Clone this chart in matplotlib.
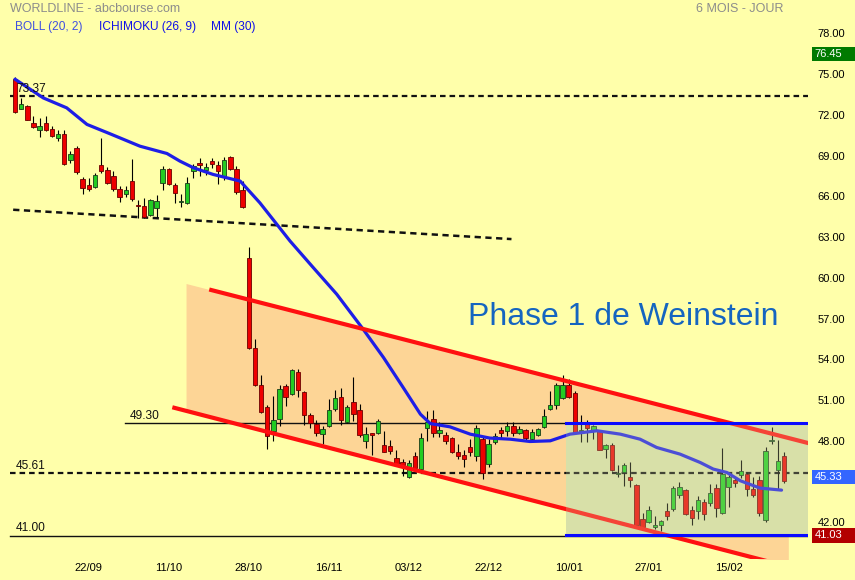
import matplotlib
matplotlib.use("Agg")
import matplotlib.pyplot as plt
import matplotlib.transforms as mtransforms
from matplotlib.patches import Rectangle
import numpy as np

plt.rcParams["font.family"] = ["Liberation Sans", "DejaVu Sans"]

# -------------------------
# Daily candles, index 0 = first session
# -------------------------
opens = [74.67, 72.43, 72.68, 71.36, 70.89, 71.43, 70.99, 70.30, 70.55, 68.64,
         69.52, 67.24, 66.82, 66.70, 68.29, 67.90, 67.49, 66.51, 66.16, 67.10,
         65.35, 65.26, 64.60, 65.16, 66.95, 67.98, 66.82, 65.55, 65.48, 67.85,
         68.44, 67.93, 68.59, 68.29, 67.49, 68.88, 67.98, 66.46, 61.43, 54.82,
         52.10, 50.50, 48.74, 49.60, 52.04, 51.48, 53.05, 51.63, 49.91, 49.27,
         48.49, 49.10, 50.33, 51.24, 49.42, 50.84, 50.26, 47.95, 48.54, 48.54,
         47.71, 47.63, 46.77, 46.46, 45.35, 46.90, 45.96, 48.93, 49.60, 48.54,
         48.44, 48.20, 47.19, 46.97, 47.56, 46.85, 48.12, 46.29, 47.93, 48.81,
         48.74, 49.10, 48.61, 48.79, 48.13, 48.44, 49.03, 50.33, 50.62, 51.14,
         52.12, 51.55, 48.70, 49.42, 48.74, 48.74, 47.39, 47.71, 45.55, 45.67,
         45.35, 44.76, 42.24, 41.99, 41.68, 41.77, 42.85, 42.98, 44.03, 44.37,
         42.90, 42.80, 43.46, 43.39, 44.52, 42.66, 44.57, 45.11, 45.50, 45.55,
         44.45, 45.11, 42.17, 47.95, 45.87, 46.90]
highs = [74.75, 73.24, 72.70, 71.90, 71.73, 71.90, 71.14, 70.85, 70.85, 69.37,
         69.69, 67.41, 67.32, 67.73, 70.30, 68.15, 67.85, 66.75, 66.75, 68.71,
         65.72, 65.85, 65.82, 66.09, 68.22, 68.10, 66.99, 66.14, 67.41, 68.39,
         68.83, 68.46, 68.83, 68.59, 68.88, 68.96, 68.22, 67.12, 62.26, 55.48,
         52.85, 50.60, 51.31, 52.12, 52.17, 53.32, 53.29, 51.70, 50.08, 49.52,
         49.10, 51.07, 51.73, 51.92, 50.65, 52.71, 50.74, 49.03, 48.60, 49.64,
         48.74, 48.05, 47.32, 46.65, 46.58, 47.21, 48.54, 50.21, 50.28, 49.35,
         48.66, 48.25, 47.76, 47.32, 48.12, 49.18, 48.29, 48.12, 48.61, 49.03,
         49.42, 49.35, 49.10, 48.86, 48.90, 48.95, 50.33, 51.68, 52.29, 52.85,
         52.54, 51.68, 49.91, 49.52, 49.15, 48.80, 47.80, 47.83, 46.24, 46.40,
         46.46, 44.80, 42.65, 43.22, 42.49, 42.15, 43.42, 44.69, 44.99, 44.45,
         43.22, 43.96, 43.71, 44.81, 44.81, 47.46, 45.45, 45.35, 46.58, 45.67,
         45.30, 45.43, 47.51, 49.03, 48.05, 47.14]
lows = [72.10, 72.40, 71.60, 71.04, 70.37, 70.80, 70.40, 70.04, 68.30, 68.46,
        67.65, 66.18, 66.38, 66.63, 67.73, 66.87, 66.38, 65.60, 65.96, 65.65,
        64.42, 64.42, 64.54, 64.49, 66.46, 66.80, 65.52, 65.23, 65.40, 67.32,
        67.49, 67.56, 68.10, 66.87, 67.17, 67.90, 66.14, 65.11, 54.75, 52.05,
        50.08, 47.39, 47.95, 49.10, 50.57, 51.40, 51.19, 49.18, 48.93, 48.37,
        47.80, 49.03, 50.20, 49.18, 49.30, 49.47, 48.30, 47.46, 46.95, 48.50,
        47.14, 47.02, 46.29, 45.43, 45.26, 45.79, 45.85, 48.00, 48.29, 48.29,
        47.80, 47.10, 46.65, 46.04, 46.90, 46.53, 45.18, 46.04, 47.76, 48.24,
        48.37, 48.37, 48.50, 48.00, 47.90, 48.35, 48.98, 50.26, 50.33, 51.07,
        51.14, 48.54, 47.88, 47.88, 48.13, 47.30, 46.77, 45.80, 45.35, 44.69,
        44.62, 41.75, 41.55, 41.92, 41.51, 41.33, 42.17, 42.85, 43.79, 42.55,
        41.80, 42.24, 42.17, 43.22, 42.36, 42.60, 43.15, 44.62, 45.26, 43.96,
        43.90, 42.49, 41.99, 47.80, 44.45, 44.90]
closes = [72.21, 72.83, 71.65, 71.11, 71.14, 70.89, 70.45, 70.55, 68.35, 69.10,
          67.78, 66.58, 66.55, 67.56, 67.85, 66.99, 66.51, 65.96, 66.46, 65.79,
          65.30, 64.49, 65.70, 65.65, 67.98, 66.87, 66.26, 65.65, 66.97, 68.22,
          68.32, 68.15, 68.35, 67.85, 68.66, 67.98, 66.33, 65.21, 54.82, 52.12,
          50.15, 48.37, 49.52, 51.80, 51.19, 53.20, 51.73, 49.91, 49.30, 48.61,
          48.86, 50.26, 51.14, 49.52, 50.50, 49.96, 48.42, 48.49, 48.45, 49.47,
          47.21, 47.26, 46.33, 46.24, 46.40, 45.99, 48.24, 49.35, 48.54, 48.79,
          47.95, 47.14, 46.85, 46.63, 47.14, 48.93, 45.60, 47.80, 48.37, 48.54,
          49.10, 48.54, 48.86, 48.20, 48.68, 48.86, 49.84, 50.65, 52.12, 52.12,
          51.24, 48.61, 48.80, 48.93, 49.10, 47.32, 47.71, 45.85, 45.60, 46.24,
          45.11, 41.82, 41.63, 42.90, 41.82, 42.12, 42.49, 44.52, 44.62, 42.61,
          42.32, 43.64, 42.61, 44.15, 43.05, 45.55, 45.35, 44.93, 45.79, 44.45,
          44.01, 42.66, 47.26, 48.05, 46.53, 45.06]

# MM (30) as drawn on the chart (session index, value)
ma_x = [0, 4.6, 8.4, 11.7, 15.4, 20.3, 24.7, 26.8, 29.0, 32.2, 36.6, 39.8,
        44.7, 48.5, 52.3, 56.6, 59.9, 63.1, 65.9, 67.5, 70.7, 74.0, 77.2,
        80.5, 83.7, 87.0, 90.2, 94.6, 98.4, 101.6, 104.3, 108.1, 111.4,
        113.5, 115.7, 117.9, 121.1, 124.6]
ma_y = [74.62, 73.24, 72.51, 71.29, 70.61, 69.69, 69.15, 68.59, 68.10, 67.61,
        67.12, 65.52, 62.71, 60.74, 58.79, 56.21, 54.13, 51.92, 49.96, 49.27,
        49.03, 48.49, 48.20, 48.12, 47.95, 48.00, 48.49, 48.74, 48.49, 48.12,
        47.51, 47.02, 46.40, 45.92, 45.67, 45.06, 44.52, 44.37]

date_pos = [12, 25, 38, 51, 64, 77, 90, 103, 116]
date_labels = ["22/09", "11/10", "28/10", "16/11", "03/12", "22/12", "10/01", "27/01", "15/02"]
price_ticks = [42, 48, 51, 54, 57, 60, 63, 66, 69, 72, 75, 78]

# drawn annotations (session index / price)
dash_levels = [73.37, 45.61]
solid_levels = [49.30, 41.00]
solid_starts = [17.9, -0.8]
trend_x = [-0.3, 80.7]
trend_y = [65.01, 62.85]
upper_x = [31.9, 128.8]
upper_y = [59.10, 47.85]
lower_x = [25.9, 125.0]
lower_y = [50.43, 38.82]
chan_x = [27.8, 125.7]
chan_top = [59.58, 48.21]
chan_bot = [50.21, 38.73]
box_x = [89.6, 128.9]
box_y = [41.03, 49.30]
side_labels = [(76.45, "#007a00"), (45.33, "#3366ff"), (41.03, "#b30000")]

BG = "#ffffaa"
XMIN, XMAX = -2.44, 128.9
YMIN, YMAX = 39.3, 80.45

fig = plt.figure(figsize=(8.55, 5.80), dpi=100, facecolor=BG)
ax = fig.add_axes([0, 21 / 580, 808 / 855, 559 / 580])
ax.set_facecolor(BG)
ax.set_xlim(XMIN, XMAX)
ax.set_ylim(YMIN, YMAX)
for s in ax.spines.values():
    s.set_visible(False)

# channel shading + box
ax.fill_between(chan_x, chan_bot, chan_top, color="#fdd596", lw=0, zorder=1)
ax.add_patch(Rectangle((box_x[0], box_y[0]), box_x[1] - box_x[0], box_y[1] - box_y[0],
                       facecolor="#d8e0a8", edgecolor="none", zorder=1.5))

# horizontal levels
for lv in dash_levels:
    ax.plot([-0.8, XMAX], [lv, lv], color="#111111", lw=1.6, ls=(0, (2.5, 1.8)), zorder=2)
for lv, x0 in zip(solid_levels, solid_starts):
    ax.plot([x0, XMAX], [lv, lv], color="#111111", lw=1.0, zorder=2)
ax.plot(trend_x, trend_y, color="#111111", lw=1.8, ls=(0, (2.5, 1.8)), zorder=2)

for lv, x0 in [(73.37, 0.2), (45.61, 0.2), (49.30, 18.6), (41.00, 0.2)]:
    ax.text(x0, lv + 0.12, f"{lv:.2f}", fontsize=8.6, color="#111111",
            ha="left", va="bottom", zorder=7)

# candles
x = np.arange(len(opens))
o = np.array(opens)
c = np.array(closes)
up = c >= o
ax.vlines(x, lows, highs, color="black", lw=0.8, zorder=3)
bottom = np.minimum(o, c)
height = np.maximum(np.abs(c - o), 0.06)
ax.bar(x[up], height[up], bottom=bottom[up], width=0.72, color="#22cc22",
       edgecolor="#1a3a1a", linewidth=0.6, zorder=3.5)
ax.bar(x[~up], height[~up], bottom=bottom[~up], width=0.72, color="#ee0000",
       edgecolor="#6a0000", linewidth=0.6, zorder=3.5)

# MM 30
ax.plot(ma_x, ma_y, color="#1e1ee6", lw=2.3, zorder=4, solid_capstyle="round")

# channel lines
ax.plot(upper_x, upper_y, color="#ff1010", lw=3, zorder=4.5)
ax.plot(lower_x, lower_y, color="#ff1010", lw=3, zorder=4.5)

# translucent overlay of the box + blue borders
ax.add_patch(Rectangle((box_x[0], box_y[0]), box_x[1] - box_x[0], box_y[1] - box_y[0],
                       facecolor="#d8e0a8", edgecolor="none", alpha=0.25, zorder=5))
for lv in box_y:
    ax.plot(box_x, [lv, lv], color="#0a0aff", lw=2.2, zorder=6)

ax.text(98.9, 57.1, "Phase 1 de Weinstein", fontsize=23, color="#1565c0",
        ha="center", va="center", zorder=7)

# axes ticks
ax.set_xticks(date_pos)
ax.set_xticklabels(date_labels)
ax.yaxis.tick_right()
ax.set_yticks(price_ticks)
ax.set_yticklabels([f"{v:.2f}" for v in price_ticks])
ax.tick_params(axis="x", length=0, pad=3, labelsize=8, colors="black")
ax.tick_params(axis="y", length=0, pad=7, labelsize=8, colors="black")

# value boxes on the right axis
trans = mtransforms.blended_transform_factory(ax.transAxes, ax.transData)
for val, col in side_labels:
    ax.add_patch(Rectangle((1.005, val - 0.52), 0.06, 1.04, transform=trans,
                           facecolor=col, edgecolor="none", clip_on=False, zorder=10))
    ax.text(1.0085, val, f"{val:.2f}", transform=trans, color="white", fontsize=8,
            ha="left", va="center", clip_on=False, zorder=11)

# header
W, H = 855.0, 580.0
fig.text(10 / W, 1 - 9 / H, "WORLDLINE - abcbourse.com", fontsize=9, color="#8c8c8c", va="center")
fig.text(783 / W, 1 - 9 / H, "6 MOIS - JOUR", fontsize=9, color="#8c8c8c", va="center", ha="right")
fig.text(15 / W, 1 - 27 / H, "BOLL (20, 2)", fontsize=8.6, color="#4050e0", va="center")
fig.text(99 / W, 1 - 27 / H, "ICHIMOKU (26, 9)", fontsize=8.6, color="#1010e8", va="center")
fig.text(211 / W, 1 - 27 / H, "MM (30)", fontsize=8.6, color="#1010e8", va="center")

fig.savefig("out.png", dpi=100, facecolor=BG)
